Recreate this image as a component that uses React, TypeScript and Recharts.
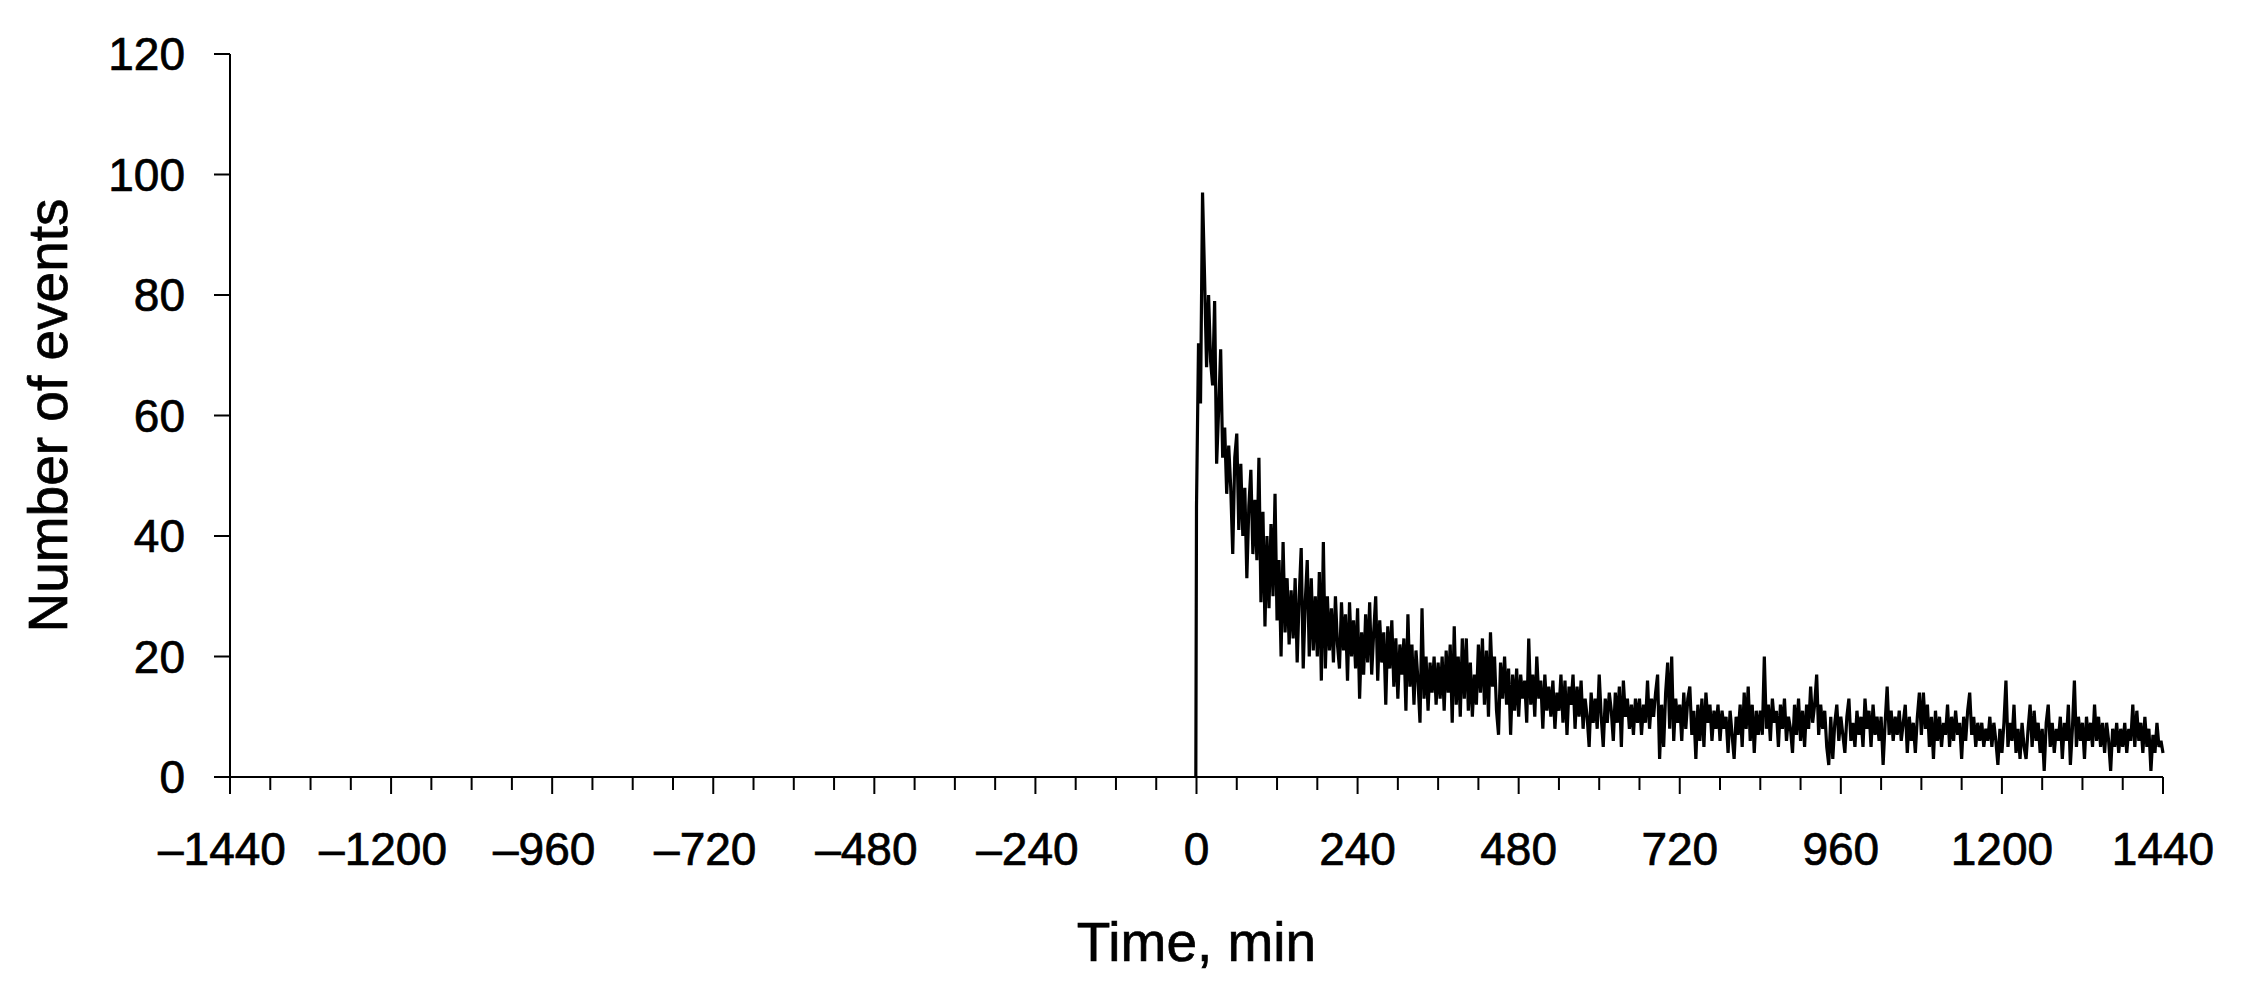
import React from 'react';
import { LineChart, Line, XAxis, YAxis } from 'recharts';

// Minutes before the event: no counts at all
const preTimes: number[] = [-1440, -1200, -960, -720, -480, -240, -1];
const preCounts: number[] = [0, 0, 0, 0, 0, 0, 0];

// Counts after the event, one value every 3 minutes (t = 0, 3, 6, ... 1440), one row per hour
const binMinutes = 3;
const postCounts: number[] = [
  45, 72, 62, 97, 83, 68, 80, 69, 65, 79, 52, 61, 71, 53, 58, 47, 55, 48, 37, 53,
  57, 41, 52, 40, 48, 33, 45, 51, 37, 46, 36, 53, 29, 44, 25, 40, 28, 42, 30, 47,
  26, 36, 20, 39, 24, 33, 22, 31, 23, 33, 19, 30, 38, 18, 29, 36, 20, 33, 21, 30,
  20, 34, 16, 39, 18, 30, 21, 28, 19, 30, 22, 18, 29, 21, 27, 16, 29, 20, 26, 18,
  28, 13, 24, 17, 27, 19, 29, 17, 24, 30, 16, 26, 19, 24, 12, 25, 18, 26, 15, 23,
  13, 22, 17, 23, 11, 27, 15, 22, 12, 21, 16, 9, 28, 13, 20, 11, 19, 14, 20, 12,
  19, 13, 20, 11, 21, 14, 22, 9, 25, 12, 20, 10, 23, 13, 23, 11, 19, 10, 17, 12,
  22, 14, 23, 12, 21, 10, 24, 15, 20, 11, 7, 19, 13, 20, 12, 18, 7, 17, 11, 18,
  10, 17, 13, 16, 9, 23, 12, 17, 10, 20, 13, 16, 8, 17, 11, 15, 10, 16, 8, 14,
  11, 17, 9, 16, 7, 15, 12, 17, 8, 15, 10, 16, 8, 13, 10, 5, 14, 9, 13, 8,
  17, 10, 5, 13, 9, 14, 11, 6, 14, 9, 15, 5, 16, 10, 13, 8, 12, 7, 13, 9,
  13, 7, 12, 9, 16, 8, 13, 10, 14, 17, 3, 12, 5, 14, 19, 8, 20, 6, 13, 9,
  12, 6, 14, 8, 13, 15, 7, 11, 3, 12, 6, 13, 5, 14, 9, 12, 6, 11, 8, 12,
  6, 11, 8, 10, 4, 11, 7, 3, 10, 7, 12, 5, 14, 8, 15, 6, 12, 4, 11, 7,
  11, 7, 20, 8, 12, 6, 13, 9, 11, 5, 12, 8, 13, 6, 10, 8, 4, 12, 7, 13,
  6, 11, 5, 12, 8, 15, 9, 12, 17, 7, 12, 8, 11, 5, 2, 10, 3, 9, 12, 6,
  10, 7, 4, 10, 13, 6, 9, 5, 11, 7, 10, 5, 13, 8, 11, 5, 12, 7, 10, 6,
  10, 2, 9, 15, 7, 11, 6, 10, 7, 11, 6, 9, 12, 4, 10, 6, 9, 4, 10, 14,
  7, 14, 8, 12, 5, 10, 3, 11, 6, 10, 5, 9, 7, 12, 5, 10, 6, 11, 7, 9,
  3, 10, 6, 11, 14, 7, 10, 5, 9, 6, 9, 5, 8, 6, 10, 5, 9, 6, 2, 8,
  4, 9, 16, 5, 9, 6, 12, 4, 8, 3, 9, 5, 3, 8, 12, 5, 11, 6, 9, 4,
  8, 1, 9, 12, 5, 9, 4, 8, 6, 10, 3, 9, 6, 12, 2, 8, 16, 5, 10, 6,
  9, 3, 10, 6, 9, 5, 12, 6, 10, 5, 9, 4, 9, 6, 1, 8, 5, 9, 4, 8,
  5, 9, 4, 8, 6, 12, 5, 11, 6, 9, 4, 10, 5, 8, 1, 7, 4, 9, 5, 6,
  4,
];

const xLabelTicks: number[] = [-1440, -1200, -960, -720, -480, -240, 0, 240, 480, 720, 960, 1200, 1440];
const xMinorStep = 60;
const yTicks: number[] = [0, 20, 40, 60, 80, 100, 120];

const xTicks: number[] = [];
for (let t = -1440; t <= 1440; t += xMinorStep) xTicks.push(t);

const preData = preTimes.map((t, i) => ({ t, v: preCounts[i] }));
const postData = [
  preData[preData.length - 1],
  ...postCounts.map((v, i) => ({ t: i * binMinutes, v })),
];

const FONT = '"Liberation Sans", Arial, Helvetica, sans-serif';
const TEXT_STROKE = 0.7;

const XTick = (props: any) => {
  const { x, y, payload } = props;
  const val: number = payload.value;
  const major = xLabelTicks.includes(val);
  const label = val < 0 ? '\u2013' + Math.abs(val) : String(val);
  return (
    <g>
      <line x1={x} x2={x} y1={y} y2={y + (major ? 17 : 13)} stroke="#000" strokeWidth={2} />
      {major && (
        <text
          x={x - (val < 0 ? 8 : 0)}
          y={y + 88}
          textAnchor="middle"
          fontSize={46}
          fontFamily={FONT}
          fill="#000"
          stroke="#000"
          strokeWidth={TEXT_STROKE}
        >
          {label}
        </text>
      )}
    </g>
  );
};

const YTick = (props: any) => {
  const { x, y, payload } = props;
  return (
    <text
      x={x}
      y={y}
      dy="0.355em"
      textAnchor="end"
      fontSize={46}
      fontFamily={FONT}
      fill="#000"
      stroke="#000"
      strokeWidth={TEXT_STROKE}
    >
      {payload.value}
    </text>
  );
};

const XTitle = (props: any) => {
  const vb = props.viewBox || { x: 230, y: 777, width: 1933, height: 227 };
  return (
    <text
      x={vb.x + vb.width / 2}
      y={vb.y + 184}
      textAnchor="middle"
      fontSize={55}
      fontFamily={FONT}
      fill="#000"
      stroke="#000"
      strokeWidth={TEXT_STROKE}
    >
      Time, min
    </text>
  );
};

const YTitle = (props: any) => {
  const vb = props.viewBox || { x: 0, y: 54, width: 230, height: 723 };
  const cx = vb.x + 67;
  const cy = vb.y + vb.height / 2;
  return (
    <text
      x={cx}
      y={cy}
      transform={`rotate(-90, ${cx}, ${cy})`}
      textAnchor="middle"
      fontSize={55}
      fontFamily={FONT}
      fill="#000"
      stroke="#000"
      strokeWidth={TEXT_STROKE}
    >
      Number of events
    </text>
  );
};

export default function App() {
  return (
    <div style={{ position: 'absolute', left: 0, top: 0, width: 2253, height: 1004, background: '#fff' }}>
      <LineChart
        width={2253}
        height={1004}
        margin={{ top: 54, right: 90, bottom: 0, left: 0 }}
      >
        <XAxis
          dataKey="t"
          type="number"
          domain={[-1440, 1440]}
          ticks={xTicks}
          interval={0}
          height={227}
          tickSize={0}
          tickMargin={0}
          tickLine={false}
          axisLine={{ stroke: '#000', strokeWidth: 2 }}
          tick={<XTick />}
          allowDuplicatedCategory={false}
          label={{ content: (p: any) => <XTitle {...p} /> }}
        />
        <YAxis
          type="number"
          domain={[0, 120]}
          ticks={yTicks}
          interval={0}
          width={230}
          tickSize={16}
          tickMargin={29}
          tickLine={{ stroke: '#000', strokeWidth: 2 }}
          axisLine={{ stroke: '#000', strokeWidth: 2 }}
          tick={<YTick />}
          label={{ content: (p: any) => <YTitle {...p} /> }}
        />
        <Line
          data={preData}
          dataKey="v"
          type="linear"
          stroke="#000"
          strokeWidth={2}
          dot={false}
          isAnimationActive={false}
        />
        <Line
          data={postData}
          dataKey="v"
          type="linear"
          stroke="#000"
          strokeWidth={3.2}
          dot={false}
          isAnimationActive={false}
        />
      </LineChart>
    </div>
  );
}
